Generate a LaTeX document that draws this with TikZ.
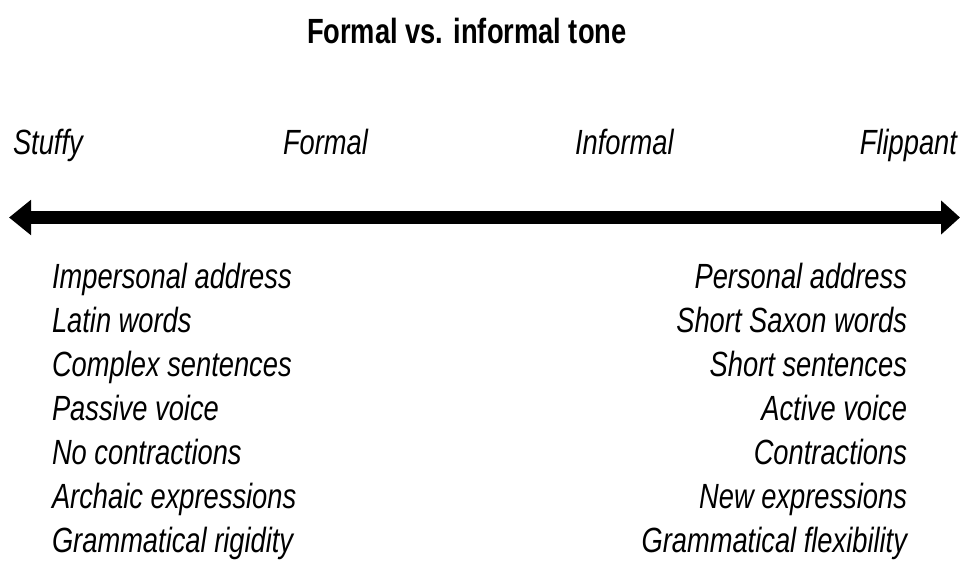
\documentclass[tikz,border=0pt]{standalone}
\usepackage{fontspec}
\setmainfont{Liberation Sans}[FakeStretch=0.78]
\usetikzlibrary{arrows.meta}
\begin{document}
\begin{tikzpicture}[x=1pt,y=-1pt,
  every node/.style={inner sep=0pt,outer sep=0pt},
  titletxt/.style={font=\fontsize{35}{42}\selectfont\bfseries},
  poletxt/.style={font=\fontsize{35}{42}\selectfont\itshape},
  listtxt/.style={font=\fontsize{35}{42}\selectfont\itshape},
  scaleline/.style={line width=13pt,{Triangle[length=22pt,width=34pt]}-{Triangle[length=19pt,width=33pt]}}]
\useasboundingbox[fill=white] (0,0) rectangle (961,562);
\node[titletxt,anchor=base west] (title) at (307,43) {Formal vs. informal tone};
\node[poletxt,anchor=base west] (stuffy) at (13,154) {Stuffy};
\node[poletxt,anchor=base west] (formal) at (283,154) {Formal};
\node[poletxt,anchor=base west] (informal) at (575,154) {Informal};
\node[poletxt,anchor=base east] (flippant) at (957,154) {Flippant};
\coordinate (lend) at (9,217.5);
\coordinate (rend) at (960,217.5);
\draw[scaleline] (lend) -- (rend);
\foreach \t [count=\i from 0] in {Impersonal address,Latin words,Complex sentences,Passive voice,No contractions,Archaic expressions,Grammatical rigidity}
  \node[listtxt,anchor=base west] (l\i) at (52,288+44*\i) {\t};
\foreach \t [count=\i from 0] in {Personal address,Short Saxon words,Short sentences,Active voice,Contractions,New expressions,Grammatical flexibility}
  \node[listtxt,anchor=base east] (r\i) at (907,288+44*\i) {\t};
\end{tikzpicture}
\end{document}
